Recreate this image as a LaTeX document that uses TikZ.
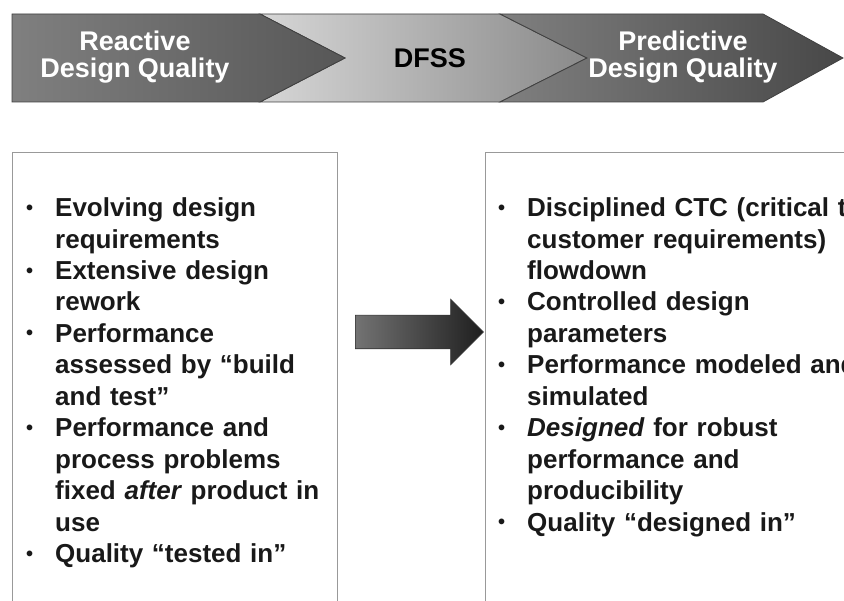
\documentclass[tikz,border=0pt]{standalone}
\usepackage{fontspec}
\setmainfont{Liberation Sans}
\usetikzlibrary{shapes.arrows}

% bullet with hanging indent for the two lists
\newcommand{\bpoint}{\par\hangindent=29pt\hangafter=1\noindent\makebox[29pt][l]{\raisebox{2.5pt}{\fontsize{20}{20}\selectfont\textbullet}}}

\begin{document}
\begin{tikzpicture}[x=1pt, y=-1pt,
    segment/.style={draw=black!75, line width=0.8pt},
    banner/.style={font=\fontsize{27}{27}\selectfont\bfseries, align=center, text=white},
    listbox/.style={draw=black!40, line width=1.4pt, anchor=north west, minimum height=480pt},
    points/.style={anchor=north west, inner sep=0pt, text width=340pt, align=left,
      font=\fontsize{26}{31.45}\selectfont\bfseries, text=black!90}]
        \useasboundingbox (0,0) rectangle (844,601);
        \clip (0,0) rectangle (844,601);

        % Banner
        \draw[segment, left color=black!16, right color=black!46] (260,14) -- (500,14) -- (587,58) -- (500,102) -- (260,102) -- (345,58) -- cycle;
        \draw[segment, left color=black!50, right color=black!66] (12,14) -- (260,14) -- (345,58) -- (260,102) -- (12,102) -- cycle;
        \draw[segment, left color=black!50, right color=black!72] (500,14) -- (763,14) -- (843,58) -- (763,102) -- (500,102) -- (587,58) -- cycle;

        \node[banner] (reactive) at (135,57) {Reactive\\Design Quality};
        \node[banner, text=black] (dfss) at (430,58) {DFSS};
        \node[banner] (predictive) at (683,57) {Predictive\\Design Quality};

        % Boxes
        \node[listbox, minimum width=325pt] (before) at (12,152) {};
        \node[listbox, minimum width=400pt] (after) at (485,152) {};

        % Arrow between the boxes
        \node[single arrow, draw=black!80, line width=0.6pt, left color=black!55, right color=black!88,
          inner sep=0pt, inner ysep=16.5pt, minimum height=128pt, single arrow head extend=16pt] (shift) at (411,332) {};

        % Lists
        \node[points] (beforelist) at (26,185) {%
          \bpoint Evolving design\newline requirements
          \bpoint Extensive design\newline rework
          \bpoint Performance\newline assessed by ``build\newline and test''
          \bpoint Performance and\newline process problems\newline fixed \textit{after} product in\newline use
          \bpoint Quality ``tested in''\par};
        \node[points, text width=400pt] (afterlist) at (498,185) {%
          \bpoint Disciplined CTC (critical to\newline customer requirements)\newline flowdown
          \bpoint Controlled design\newline parameters
          \bpoint Performance modeled and\newline simulated
          \bpoint \textit{Designed} for robust\newline performance and\newline producibility
          \bpoint Quality ``designed in''\par};
      \end{tikzpicture}
\end{document}
